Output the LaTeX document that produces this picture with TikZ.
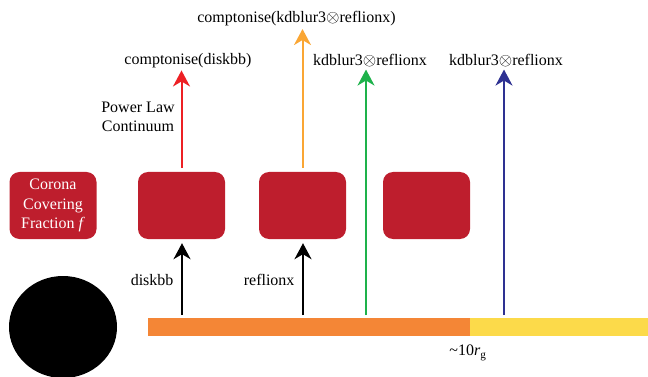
\documentclass[tikz,border=0pt]{standalone}
\usepackage{fontspec}
\setmainfont{Liberation Serif}
\usetikzlibrary{arrows.meta}

\definecolor{zonered}{RGB}{190,30,45}
\definecolor{diskorange}{RGB}{244,134,54}
\definecolor{diskyellow}{RGB}{252,218,74}
\definecolor{rayred}{RGB}{237,32,36}
\definecolor{rayorange}{RGB}{250,166,52}
\definecolor{raygreen}{RGB}{30,178,75}
\definecolor{rayblue}{RGB}{46,49,146}

\begin{document}
\begin{tikzpicture}[x=1pt,y=-1pt,font=\fontsize{16}{19.5}\selectfont]
		% styles for the coronal zones and the rays
		\tikzset{
			zone/.style={fill=zonered, text=white, rounded corners=10pt, align=center,
				minimum width=87pt, minimum height=67pt, inner sep=0pt},
			ray/.style={line width=2pt, draw=#1, -{Stealth[length=16pt,width=17pt,inset=5pt]}},
			model/.style={inner sep=2.5pt}
		}
		\useasboundingbox (0,0) rectangle (648,377);
		
		% black hole
		\fill[black] (63,327) ellipse [x radius=54, y radius=51];
		
		% accretion disc
		\fill[diskorange] (148,318) rectangle (470,336);
		\fill[diskyellow] (470,318) rectangle (648,336);
		\node at (468,353) {\textasciitilde 10\textit{r}\textsubscript{g}};
		
		% coronal zones
		\node[zone] (corona) at (53,205.5) {Corona\\Covering\\Fraction \textit{f}};
		\node[zone] (zone1) at (181.5,205.5) {};
		\node[zone] (zone2) at (302.5,205.5) {};
		\node[zone] (zone3) at (426.5,205.5) {};
		
		% points on the disc surface
		\coordinate (foot1) at (182,315);
		\coordinate (foot2) at (303,315);
		\coordinate (foot3) at (366,315);
		\coordinate (foot4) at (504,315);
		
		% model names
		\node[model] (comptdisk) at (188,60.5) {comptonise(diskbb)};
		\node[model] (comptrefl) at (296.5,19) {comptonise(kdblur3$\otimes$reflionx)};
		\node[model] (blurA) at (370,60.5) {kdblur3$\otimes$reflionx};
		\node[model] (blurB) at (506,60.5) {kdblur3$\otimes$reflionx};
		\node[align=center] (plaw) at (138,117) {Power Law\\Continuum};
		
		% disc to corona
		\draw[ray=black, shorten >=4pt] (foot1) -- (foot1 |- zone1.south);
		\draw[ray=black, shorten >=4pt] (foot2) -- (foot2 |- zone2.south);
		\node[anchor=east] (diskbb) at (177,280) {diskbb};
		\node[anchor=east] (reflionx) at (298,280) {reflionx};
		
		% corona and disc to observer
		\draw[ray=rayred, shorten <=4pt] (zone1.north) -- (zone1.north |- comptdisk.south);
		\draw[ray=rayorange, shorten <=4pt] (zone2.north) -- (zone2.north |- comptrefl.south);
		\draw[ray=raygreen] (foot3) -- (foot3 |- blurA.south);
		\draw[ray=rayblue] (foot4) -- (foot4 |- blurB.south);
\end{tikzpicture}
\end{document}
